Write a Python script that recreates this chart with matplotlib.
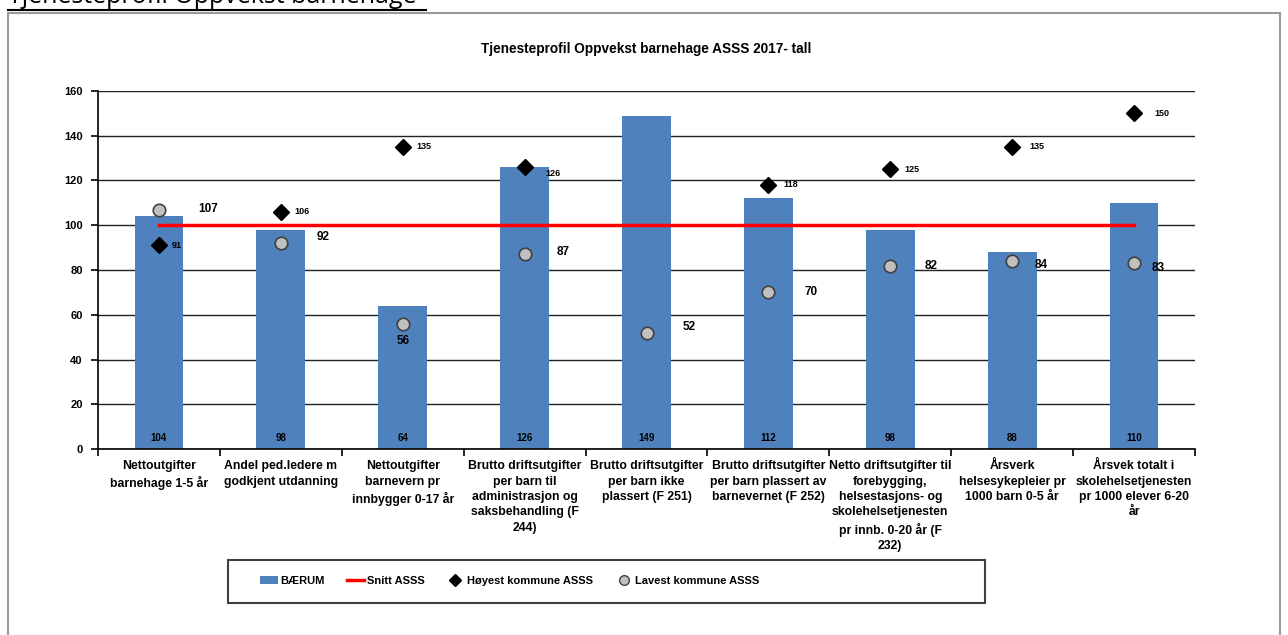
import numpy as np
import matplotlib
matplotlib.use("Agg")
import matplotlib.pyplot as plt
from matplotlib.patches import Patch, Rectangle
from matplotlib.lines import Line2D
from matplotlib import font_manager

# fonter: Arial Narrow-lignende hvis den finnes
names = {f.name for f in font_manager.fontManager.ttflist}
narrow = "Liberation Sans Narrow" if "Liberation Sans Narrow" in names else "Liberation Sans"
plt.rcParams["font.family"] = [narrow, "DejaVu Sans"]

# data
kategorier = [
    "Nettoutgifter\nbarnehage 1-5 år",
    "Andel ped.ledere m\ngodkjent utdanning",
    "Nettoutgifter\nbarnevern pr\ninnbygger 0-17 år",
    "Brutto driftsutgifter\nper barn til\nadministrasjon og\nsaksbehandling (F\n244)",
    "Brutto driftsutgifter\nper barn ikke\nplassert (F 251)",
    "Brutto driftsutgifter\nper barn plassert av\nbarnevernet (F 252)",
    "Netto driftsutgifter til\nforebygging,\nhelsestasjons- og\nskolehelsetjenesten\npr innb. 0-20 år (F\n232)",
    "Årsverk\nhelsesykepleier pr\n1000 barn 0-5 år",
    "Årsvek totalt i\nskolehelsetjenesten\npr 1000 elever 6-20\når",
]
baerum = [104, 98, 64, 126, 149, 112, 98, 88, 110]
snitt = [100, 100, 100, 100, 100, 100, 100, 100, 100]
hoyest = [91, 106, 135, 126, np.nan, 118, 125, 135, 150]
lavest = [107, 92, 56, 87, 52, 70, 82, 84, 83]
y_ticks = [0, 20, 40, 60, 80, 100, 120, 140, 160]

# etikett-forskyvning i piksler
lav_off = [(49, 1), (42, 6), (0, -17), (39, 2), (43, 6), (43, 0), (41, 0), (29, -4), (24, -5)]
hoy_off = [(18, 0), (21, 0), (21, 0), (28, -6), (0, 0), (22, 0), (22, 0), (25, 0), (28, 0)]

fig = plt.figure(figsize=(12.88, 6.35), dpi=100)

# overskrift i dokumentet + ramme
fig.text(8/1288, 1 - 3/635, "Tjenesteprofil Oppvekst barnehage", fontsize=18,
         family=["Open Sans", "DejaVu Sans"], va="baseline", ha="left")
fig.add_artist(Line2D([8/1288, 426/1288], [1 - 9.5/635, 1 - 9.5/635], color="black", lw=1.5))
fig.add_artist(Rectangle((8/1288, -0.05), 1272/1288, 1.05 - 13/635, transform=fig.transFigure,
                         fill=False, edgecolor="#9a9a9a", lw=1.5))

ax = fig.add_axes([98/1288, 1 - 449/635, 1097/1288, 358/635])
x = np.arange(len(kategorier))

ax.bar(x, baerum, width=0.4, color="#4f81bd", zorder=2)
ax.plot(x, snitt, color="#ff0000", lw=2.5, zorder=3)
ax.plot(x, hoyest, linestyle="none", marker="D", markersize=8, color="black", zorder=4)
ax.plot(x, lavest, linestyle="none", marker="o", markersize=9, markerfacecolor="#c0c0c0",
        markeredgecolor="#404040", markeredgewidth=1.2, zorder=4)

for i, v in enumerate(baerum):
    ax.text(x[i], 5, str(v), ha="center", va="center", fontsize=7, fontweight="bold", zorder=5)
for i, v in enumerate(lavest):
    ax.annotate(str(v), (x[i], v), xytext=lav_off[i], textcoords="offset pixels",
                ha="center", va="center", fontsize=8.5, fontweight="bold", zorder=5)
for i, v in enumerate(hoyest):
    if np.isnan(v):
        continue
    ax.annotate(str(int(v)), (x[i], v), xytext=hoy_off[i], textcoords="offset pixels",
                ha="center", va="center", fontsize=6.5, fontweight="bold", zorder=5)

ax.set_xlim(-0.5, len(kategorier) - 0.5)
ax.set_ylim(0, 160)
ax.set_yticks(y_ticks)
ax.set_yticklabels([str(t) for t in y_ticks], fontsize=8, fontweight="bold")
ax.yaxis.grid(True, color="#222222", lw=1)
ax.set_axisbelow(True)
ax.set_xticks(x)
ax.set_xticklabels(kategorier, fontsize=8.8, fontweight="bold", linespacing=1.38)
ax.set_xticks(np.arange(-0.5, len(kategorier), 1), minor=True)
ax.tick_params(axis="x", which="major", length=0, pad=8)
ax.tick_params(axis="x", which="minor", length=5, direction="out", width=1.2)
ax.tick_params(axis="y", length=5, direction="out", width=1.2, pad=6)
for s in ["top", "right"]:
    ax.spines[s].set_visible(False)
ax.spines["left"].set_linewidth(1.2)
ax.spines["bottom"].set_linewidth(1.2)

ax.set_title("Tjenesteprofil Oppvekst barnehage ASSS 2017- tall", fontsize=9.8, fontweight="bold", pad=27)

# legende
fig.add_artist(Rectangle((228/1288, 1 - 603/635), 757/1288, 43/635, transform=fig.transFigure,
                         fill=False, edgecolor="#404040", lw=1.5))
handles = [
    Patch(facecolor="#4f81bd", edgecolor="none"),
    Line2D([], [], color="#ff0000", lw=2.5),
    Line2D([], [], linestyle="none", marker="D", markersize=6, color="black"),
    Line2D([], [], linestyle="none", marker="o", markersize=7, markerfacecolor="#c0c0c0",
           markeredgecolor="#404040"),
]
fig.legend(handles, ["BÆRUM", "Snitt ASSS", "Høyest kommune ASSS", "Lavest kommune ASSS"],
           loc="center left", bbox_to_anchor=(250/1288, 1 - 581/635), ncol=4, frameon=False,
           prop={"weight": "bold", "size": 8}, handlelength=1.6, handletextpad=0.2,
           columnspacing=2.0)

fig.savefig("out.png", dpi=100)
